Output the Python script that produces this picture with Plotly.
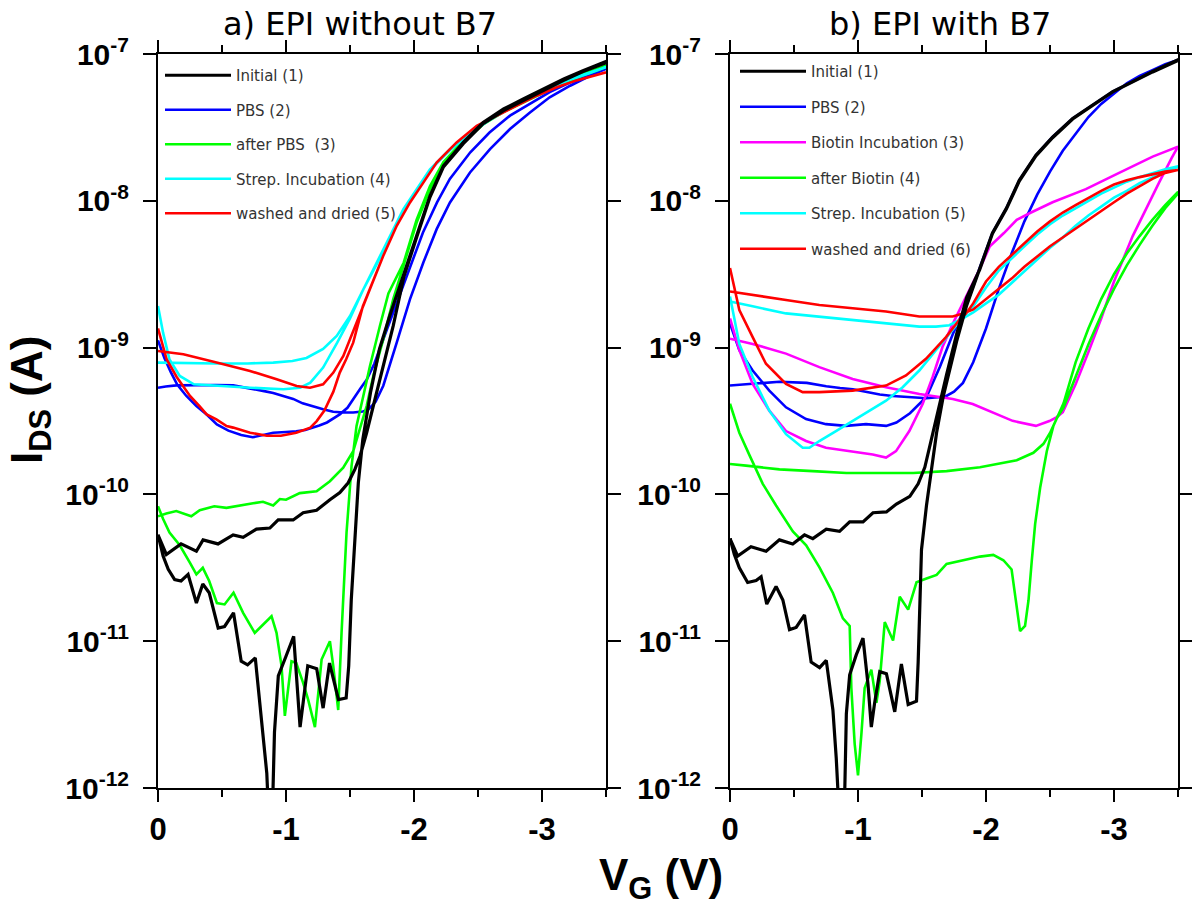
import plotly.graph_objects as go

FONT = "Liberation Sans, Arial, sans-serif"
TITLE_FONT = "DejaVu Sans, Liberation Sans, sans-serif"
LEGEND_FONT = "DejaVu Sans, Liberation Sans, sans-serif"

# Transfer curves I_DS(V_G). Every measurement is a double sweep:
# forward branch 0 -> -3.5 V, reverse branch -3.5 -> 0 V.

# ---------------- a) EPI without B7 ----------------
a_initial_fwd_v = [0, -0.04, -0.08, -0.13, -0.18, -0.235, -0.30, -0.35, -0.40, -0.47, -0.52, -0.59,
                   -0.65, -0.70, -0.76, -0.81, -0.85, -0.87, -0.89, -0.91, -0.94, -1.00, -1.06, -1.11,
                   -1.17, -1.24, -1.29, -1.34, -1.41, -1.47, -1.49, -1.51, -1.54, -1.565, -1.60, -1.66,
                   -1.73, -1.81, -1.92, -2.02, -2.125, -2.23, -2.385, -2.54, -2.70, -2.85, -3.01, -3.17,
                   -3.32, -3.5]
a_initial_fwd_i = [5.33e-11, 3.80e-11, 3.09e-11, 2.63e-11, 2.57e-11, 2.85e-11, 1.82e-11, 2.45e-11,
                   2.14e-11, 1.23e-11, 1.26e-11, 1.56e-11, 7.3e-12, 6.9e-12, 7.7e-12, 2.8e-12, 1.26e-12,
                   5e-13, 5e-13, 2.4e-12, 5.8e-12, 7.9e-12, 1.08e-11, 2.6e-12, 6.8e-12, 6.5e-12, 3.5e-12,
                   7.1e-12, 4.0e-12, 4.1e-12, 6.8e-12, 1.92e-11, 5.5e-11, 1.20e-10, 2.37e-10, 4.93e-10,
                   9.75e-10, 1.64e-9, 3.16e-9, 5.77e-9, 1.08e-8, 1.73e-8, 2.50e-8, 3.42e-8, 4.22e-8,
                   4.93e-8, 5.77e-8, 6.76e-8, 7.69e-8, 8.91e-8]
a_initial_rev_v = [-3.5, -3.32, -3.17, -3.01, -2.85, -2.70, -2.54, -2.385, -2.23, -2.125, -2.02, -1.92,
                   -1.838, -1.76, -1.682, -1.63, -1.578, -1.538, -1.486, -1.421, -1.343, -1.239, -1.134,
                   -1.056, -0.939, -0.874, -0.769, -0.665, -0.587, -0.469, -0.352, -0.30, -0.18, -0.065, 0]
a_initial_rev_i = [8.71e-8, 7.59e-8, 6.61e-8, 5.62e-8, 4.84e-8, 4.12e-8, 3.35e-8, 2.45e-8, 1.70e-8,
                   1.06e-8, 5.62e-9, 3.02e-9, 1.41e-9, 7.5e-10, 4.0e-10, 2.63e-10, 1.82e-10, 1.48e-10,
                   1.20e-10, 1.03e-10, 9.2e-11, 7.8e-11, 7.5e-11, 6.7e-11, 6.7e-11, 5.9e-11, 5.8e-11,
                   5.1e-11, 5.3e-11, 4.6e-11, 4.9e-11, 4.1e-11, 4.6e-11, 3.9e-11, 5.3e-11]

a_pbs_fwd_v = [0, -0.05, -0.10, -0.15, -0.22, -0.30, -0.38, -0.46, -0.55, -0.65, -0.74, -0.82, -0.90,
               -1.0, -1.08, -1.15, -1.21, -1.26, -1.32, -1.38, -1.42, -1.48, -1.525, -1.58, -1.63, -1.69,
               -1.76, -1.865, -1.97, -2.07, -2.18, -2.28, -2.44, -2.59, -2.75, -2.91, -3.06, -3.22,
               -3.375, -3.5]
a_pbs_fwd_i = [1.12e-9, 8.5e-10, 6.8e-10, 5.6e-10, 4.7e-10, 4.0e-10, 3.5e-10, 3.0e-10, 2.72e-10,
               2.54e-10, 2.45e-10, 2.54e-10, 2.63e-10, 2.66e-10, 2.69e-10, 2.75e-10, 2.85e-10, 2.95e-10,
               3.09e-10, 3.31e-10, 3.51e-10, 3.89e-10, 4.47e-10, 5.25e-10, 6.03e-10, 7.76e-10, 1.14e-9,
               2.03e-9, 3.61e-9, 6.08e-9, 9.75e-9, 1.41e-8, 2.14e-8, 2.92e-8, 3.80e-8, 4.57e-8, 5.50e-8,
               6.41e-8, 7.31e-8, 8.13e-8]
a_pbs_rev_v = [-3.5, -3.375, -3.22, -3.06, -2.906, -2.75, -2.594, -2.4375, -2.281, -2.177, -2.073,
               -1.969, -1.865, -1.76, -1.70, -1.64, -1.60, -1.525, -1.45, -1.369, -1.29, -1.213, -1.13,
               -1.056, -0.98, -0.90, -0.82, -0.743, -0.65, -0.587, -0.45, -0.30, -0.143, -0.06, 0]
a_pbs_rev_i = [7.94e-8, 7.11e-8, 6.08e-8, 5.07e-8, 4.0e-8, 3.08e-8, 2.25e-8, 1.56e-8, 9.75e-9, 6.41e-9,
               3.80e-9, 2.14e-9, 1.08e-9, 5.5e-10, 4.27e-10, 3.76e-10, 3.67e-10, 3.61e-10, 3.61e-10,
               3.66e-10, 3.80e-10, 3.98e-10, 4.17e-10, 4.47e-10, 4.68e-10, 4.90e-10, 5.07e-10, 5.2e-10,
               5.37e-10, 5.53e-10, 5.56e-10, 5.56e-10, 5.53e-10, 5.43e-10, 5.33e-10]

a_after_fwd_v = [0, -0.04, -0.09, -0.17, -0.25, -0.30, -0.35, -0.40, -0.46, -0.52, -0.59, -0.665,
                 -0.756, -0.82, -0.887, -0.926, -0.965, -0.991, -1.043, -1.08, -1.134, -1.173, -1.226,
                 -1.278, -1.343, -1.369, -1.408, -1.434, -1.473, -1.512, -1.551, -1.604, -1.656, -1.734,
                 -1.80, -1.92, -2.02, -2.125, -2.23, -2.385, -2.54, -2.70, -2.85, -3.01, -3.17, -3.32, -3.5]
a_after_fwd_i = [8.3e-11, 6.8e-11, 5.5e-11, 4.5e-11, 3.42e-11, 2.85e-11, 3.16e-11, 2.57e-11, 1.82e-11,
                 1.78e-11, 2.14e-11, 1.56e-11, 1.14e-11, 1.30e-11, 1.48e-11, 1.14e-11, 6.8e-12, 3.1e-12,
                 7.3e-12, 7.1e-12, 5.2e-12, 4.0e-12, 2.6e-12, 7.5e-12, 1.0e-11, 6.8e-12, 3.4e-12, 1.14e-11,
                 5.5e-11, 1.56e-10, 2.92e-10, 4.68e-10, 7.5e-10, 1.41e-9, 2.34e-9, 3.80e-9, 7.41e-9,
                 1.26e-8, 1.84e-8, 2.57e-8, 3.39e-8, 4.12e-8, 4.79e-8, 5.56e-8, 6.46e-8, 7.33e-8, 8.32e-8]
a_after_rev_v = [-3.5, -3.32, -3.17, -3.01, -2.85, -2.70, -2.54, -2.385, -2.23, -2.125, -2.02, -1.92,
                 -1.838, -1.76, -1.682, -1.63, -1.578, -1.525, -1.447, -1.343, -1.239, -1.108, -1.0,
                 -0.952, -0.90, -0.82, -0.743, -0.64, -0.535, -0.44, -0.326, -0.26, -0.143, -0.065, 0]
a_after_rev_i = [8.13e-8, 7.16e-8, 6.31e-8, 5.43e-8, 4.68e-8, 4.03e-8, 3.31e-8, 2.51e-8, 1.80e-8,
                 1.20e-8, 7.08e-9, 3.72e-9, 2.14e-9, 1.14e-9, 6.41e-10, 4.0e-10, 2.77e-10, 1.97e-10,
                 1.52e-10, 1.23e-10, 1.05e-10, 1.02e-10, 9.2e-11, 9.3e-11, 8.4e-11, 8.9e-11, 8.7e-11,
                 8.4e-11, 8.1e-11, 8.3e-11, 7.8e-11, 7.1e-11, 7.7e-11, 7.4e-11, 7.1e-11]

a_strep_fwd_v = [0, -0.04, -0.09, -0.17, -0.28, -0.46, -0.72, -0.98, -1.11, -1.19, -1.29, -1.40, -1.50,
                 -1.60, -1.71, -1.81, -1.92, -2.02, -2.125, -2.28, -2.44, -2.59, -2.75, -2.91, -3.06,
                 -3.22, -3.375, -3.5]
a_strep_fwd_i = [1.92e-9, 1.26e-9, 8.3e-10, 6.41e-10, 5.62e-10, 5.48e-10, 5.33e-10, 5.20e-10, 5.33e-10,
                 5.77e-10, 7.31e-10, 1.08e-9, 1.58e-9, 2.45e-9, 3.72e-9, 5.62e-9, 8.61e-9, 1.17e-8,
                 1.62e-8, 2.21e-8, 2.88e-8, 3.55e-8, 4.27e-8, 5.13e-8, 5.86e-8, 6.68e-8, 7.41e-8, 8.04e-8]
a_strep_rev_v = [-3.5, -3.375, -3.22, -3.06, -2.906, -2.75, -2.594, -2.4375, -2.281, -2.125, -2.02,
                 -1.917, -1.8125, -1.708, -1.604, -1.50, -1.396, -1.29, -1.16, -1.05, -0.90, -0.70,
                 -0.46, -0.20, 0]
a_strep_rev_i = [8.13e-8, 7.50e-8, 6.76e-8, 5.93e-8, 5.20e-8, 4.33e-8, 3.61e-8, 2.92e-8, 2.25e-8,
                 1.64e-8, 1.20e-8, 8.77e-9, 5.75e-9, 3.80e-9, 2.51e-9, 1.64e-9, 1.20e-9, 9.8e-10, 8.5e-10,
                 8.1e-10, 7.9e-10, 7.8e-10, 7.8e-10, 7.9e-10, 7.9e-10]

a_washed_fwd_v = [0, -0.068, -0.146, -0.25, -0.326, -0.38, -0.456, -0.536, -0.587, -0.72, -0.85, -0.96,
                  -1.08, -1.19, -1.24, -1.30, -1.37, -1.42, -1.47, -1.525, -1.60, -1.656, -1.76, -1.865,
                  -1.969, -2.073, -2.177, -2.333, -2.49, -2.646, -2.802, -2.958, -3.115, -3.27, -3.5]
a_washed_fwd_i = [1.35e-9, 8.3e-10, 6.31e-10, 4.68e-10, 3.98e-10, 3.51e-10, 3.24e-10, 2.92e-10,
                  2.85e-10, 2.63e-10, 2.51e-10, 2.51e-10, 2.63e-10, 2.85e-10, 3.16e-10, 3.72e-10, 5.01e-10,
                  6.76e-10, 8.32e-10, 1.08e-9, 1.91e-9, 2.51e-9, 4.22e-9, 6.76e-9, 9.75e-9, 1.33e-8,
                  1.82e-8, 2.50e-8, 3.24e-8, 3.80e-8, 4.45e-8, 5.20e-8, 5.93e-8, 6.61e-8, 7.50e-8]
a_washed_rev_v = [-3.5, -3.27, -3.115, -2.958, -2.802, -2.646, -2.49, -2.333, -2.177, -2.073, -1.969,
                  -1.865, -1.76, -1.656, -1.552, -1.448, -1.37, -1.29, -1.1875, -1.083, -0.927, -0.719,
                  -0.458, -0.198, 0]
a_washed_rev_i = [7.50e-8, 6.61e-8, 5.93e-8, 5.20e-8, 4.45e-8, 3.80e-8, 3.24e-8, 2.50e-8, 1.82e-8,
                  1.33e-8, 9.75e-9, 6.76e-9, 4.22e-9, 2.51e-9, 1.48e-9, 8.77e-10, 6.76e-10, 5.62e-10,
                  5.33e-10, 5.48e-10, 6.08e-10, 6.93e-10, 7.91e-10, 9.02e-10, 9.48e-10]

# ---------------- b) EPI with B7 ----------------
b_initial_fwd_v = [0, -0.034, -0.073, -0.138, -0.204, -0.243, -0.287, -0.36, -0.413, -0.465, -0.517,
                   -0.582, -0.634, -0.70, -0.752, -0.804, -0.83, -0.86, -0.89, -0.909, -0.935, -0.987,
                   -1.039, -1.078, -1.104, -1.13, -1.17, -1.222, -1.287, -1.339, -1.392, -1.457, -1.47,
                   -1.496, -1.535, -1.574, -1.614, -1.666, -1.718, -1.77, -1.849, -1.95, -2.05, -2.16,
                   -2.26, -2.39, -2.52, -2.677, -2.833, -2.99, -3.146, -3.302, -3.5]
b_initial_fwd_i = [5.01e-11, 3.89e-11, 3.16e-11, 2.51e-11, 2.59e-11, 2.75e-11, 1.79e-11, 2.36e-11,
                   1.91e-11, 1.20e-11, 1.24e-11, 1.51e-11, 7.2e-12, 6.6e-12, 7.4e-12, 3.4e-12, 1.6e-12,
                   5e-13, 5e-13, 3.2e-12, 5.9e-12, 8.1e-12, 1.05e-11, 5.1e-12, 2.6e-12, 3.8e-12, 6.2e-12,
                   6.0e-12, 3.3e-12, 7.0e-12, 3.7e-12, 3.9e-12, 7.2e-12, 4.2e-11, 8.4e-11, 1.48e-10,
                   2.63e-10, 4.65e-10, 7.35e-10, 1.10e-9, 1.94e-9, 3.47e-9, 6.03e-9, 8.91e-9, 1.38e-8,
                   2.04e-8, 2.72e-8, 3.64e-8, 4.49e-8, 5.55e-8, 6.49e-8, 7.60e-8, 9.12e-8]
b_initial_rev_v = [-3.5, -3.302, -3.146, -2.99, -2.833, -2.677, -2.52, -2.39, -2.26, -2.16, -2.05, -1.95,
                   -1.849, -1.77, -1.692, -1.627, -1.574, -1.522, -1.47, -1.405, -1.30, -1.222, -1.117,
                   -1.039, -0.935, -0.856, -0.752, -0.647, -0.582, -0.49, -0.386, -0.282, -0.164, -0.06, 0]
b_initial_rev_i = [9.02e-8, 7.55e-8, 6.46e-8, 5.52e-8, 4.47e-8, 3.61e-8, 2.69e-8, 2.02e-8, 1.36e-8,
                   8.81e-9, 5.96e-9, 3.39e-9, 2.19e-9, 1.23e-9, 6.55e-10, 3.72e-10, 2.34e-10, 1.53e-10,
                   1.18e-10, 9.7e-11, 8.6e-11, 7.6e-11, 7.5e-11, 6.5e-11, 6.5e-11, 5.6e-11, 5.8e-11,
                   5.0e-11, 5.3e-11, 4.6e-11, 4.9e-11, 4.1e-11, 4.4e-11, 3.8e-11, 5.0e-11]

b_pbs_fwd_v = [0, -0.073, -0.177, -0.307, -0.4375, -0.594, -0.75, -0.906, -1.0625, -1.22, -1.30, -1.406,
               -1.536, -1.64, -1.745, -1.86, -1.95, -2.05, -2.16, -2.26, -2.39, -2.52, -2.677, -2.833,
               -2.99, -3.146, -3.302, -3.5]
b_pbs_fwd_i = [1.46e-9, 9.6e-10, 6.98e-10, 5.09e-10, 3.92e-10, 3.26e-10, 3.01e-10, 2.93e-10, 3.01e-10,
               2.93e-10, 3.09e-10, 3.57e-10, 4.63e-10, 7.41e-10, 1.26e-9, 2.09e-9, 3.47e-9, 6.03e-9,
               8.91e-9, 1.38e-8, 2.04e-8, 2.72e-8, 3.64e-8, 4.49e-8, 5.55e-8, 6.49e-8, 7.60e-8, 9.12e-8]
b_pbs_rev_v = [-3.5, -3.4, -3.3, -3.2, -3.1, -3.0, -2.9, -2.8, -2.7, -2.6, -2.5, -2.4, -2.3, -2.2, -2.1,
               -2.0, -1.9, -1.82, -1.75, -1.68, -1.60, -1.535, -1.45, -1.379, -1.27, -1.17, -1.06, -0.96,
               -0.86, -0.752, -0.60, -0.386, -0.20, -0.125, 0]
b_pbs_rev_i = [9.12e-8, 8.51e-8, 7.76e-8, 7.08e-8, 6.31e-8, 5.37e-8, 4.57e-8, 3.72e-8, 2.88e-8, 2.19e-8,
               1.58e-8, 1.10e-8, 7.24e-9, 4.37e-9, 2.51e-9, 1.35e-9, 7.94e-10, 5.75e-10, 5.01e-10,
               4.63e-10, 4.57e-10, 4.52e-10, 4.57e-10, 4.60e-10, 4.68e-10, 4.79e-10, 5.01e-10, 5.21e-10,
               5.31e-10, 5.46e-10, 5.75e-10, 5.85e-10, 5.69e-10, 5.62e-10, 5.52e-10]

b_biotin_fwd_v = [0, -0.073, -0.177, -0.307, -0.4375, -0.594, -0.75, -0.958, -1.115, -1.219, -1.297,
                  -1.401, -1.505, -1.583, -1.66, -1.74, -1.844, -1.948, -2.03, -2.14, -2.24, -2.344,
                  -2.52, -2.78, -3.04, -3.302, -3.5]
b_biotin_fwd_i = [1.58e-9, 9.6e-10, 5.66e-10, 3.72e-10, 2.70e-10, 2.31e-10, 2.08e-10, 1.97e-10,
                  1.87e-10, 1.78e-10, 1.97e-10, 2.70e-10, 4.13e-10, 6.31e-10, 1.01e-9, 1.45e-9, 2.19e-9,
                  3.39e-9, 4.90e-9, 6.03e-9, 7.41e-9, 8.26e-9, 9.77e-9, 1.20e-8, 1.55e-8, 2.00e-8, 2.34e-8]
b_biotin_rev_v = [-3.5, -3.45, -3.354, -3.25, -3.146, -3.0, -2.9, -2.8, -2.7, -2.6, -2.55, -2.495, -2.39,
                  -2.208, -2.052, -1.896, -1.74, -1.479, -1.219, -0.958, -0.698, -0.4375, -0.177, 0]
b_biotin_rev_i = [2.34e-8, 1.95e-8, 1.34e-8, 8.77e-9, 5.75e-9, 2.82e-9, 1.58e-9, 9.33e-10, 5.62e-10,
                  3.63e-10, 3.35e-10, 3.16e-10, 2.93e-10, 3.17e-10, 3.61e-10, 4.13e-10, 4.47e-10,
                  4.83e-10, 5.37e-10, 6.12e-10, 7.36e-10, 9.1e-10, 1.06e-9, 1.15e-9]

b_after_fwd_v = [0, -0.073, -0.151, -0.256, -0.36, -0.491, -0.595, -0.70, -0.804, -0.882, -0.935,
                 -0.948, -0.974, -1.0, -1.026, -1.052, -1.104, -1.144, -1.17, -1.209, -1.274, -1.326,
                 -1.392, -1.457, -1.535, -1.614, -1.692, -1.822, -1.953, -2.057, -2.136, -2.20, -2.24,
                 -2.266, -2.305, -2.332, -2.358, -2.384, -2.423, -2.475, -2.527, -2.606, -2.7, -2.8, -2.9,
                 -3.0, -3.1, -3.2, -3.3, -3.4, -3.5]
b_after_fwd_i = [4.15e-10, 2.63e-10, 1.86e-10, 1.18e-10, 8.4e-11, 5.6e-11, 4.5e-11, 3.17e-11, 2.13e-11,
                 1.43e-11, 1.27e-11, 4.8e-12, 2.0e-12, 1.22e-12, 2.3e-12, 4.8e-12, 6.4e-12, 3.8e-12,
                 5.4e-12, 1.35e-11, 1.01e-11, 2.01e-11, 1.64e-11, 2.52e-11, 2.67e-11, 2.83e-11, 3.36e-11,
                 3.56e-11, 3.77e-11, 3.87e-11, 3.56e-11, 3.08e-11, 1.79e-11, 1.17e-11, 1.27e-11, 1.90e-11,
                 3.56e-11, 6.3e-11, 1.11e-10, 1.97e-10, 2.94e-10, 4.17e-10, 7.94e-10, 1.35e-9, 2.14e-9,
                 3.16e-9, 4.37e-9, 5.75e-9, 7.41e-9, 9.33e-9, 1.15e-8]
b_after_rev_v = [-3.5, -3.4, -3.3, -3.2, -3.1, -3.0, -2.9, -2.8, -2.7, -2.606, -2.553, -2.501, -2.449,
                 -2.37, -2.24, -2.11, -1.953, -1.692, -1.431, -1.17, -0.909, -0.647, -0.386, -0.125, 0]
b_after_rev_i = [1.12e-8, 8.91e-9, 6.76e-9, 5.01e-9, 3.63e-9, 2.51e-9, 1.66e-9, 1.05e-9, 6.31e-10,
                 3.92e-10, 3.30e-10, 2.63e-10, 2.21e-10, 1.92e-10, 1.71e-10, 1.62e-10, 1.53e-10, 1.44e-10,
                 1.40e-10, 1.40e-10, 1.40e-10, 1.44e-10, 1.48e-10, 1.57e-10, 1.61e-10]

b_strep_fwd_v = [0, -0.073, -0.177, -0.307, -0.4375, -0.568, -0.62, -0.698, -0.828, -0.958, -1.089,
                 -1.219, -1.349, -1.479, -1.609, -1.74, -1.844, -1.9, -2.0, -2.1, -2.2, -2.3, -2.4, -2.5,
                 -2.6, -2.7, -2.8, -2.9, -3.0, -3.1, -3.2, -3.3, -3.4, -3.5]
b_strep_fwd_i = [2.23e-9, 1.06e-9, 6.30e-10, 3.72e-10, 2.57e-10, 2.08e-10, 2.08e-10, 2.31e-10, 2.70e-10,
                 3.17e-10, 3.72e-10, 4.35e-10, 5.37e-10, 6.98e-10, 9.6e-10, 1.32e-9, 1.71e-9, 1.91e-9,
                 2.57e-9, 3.35e-9, 4.07e-9, 4.90e-9, 5.89e-9, 6.92e-9, 7.94e-9, 8.91e-9, 1.0e-8, 1.12e-8,
                 1.23e-8, 1.35e-8, 1.45e-8, 1.55e-8, 1.64e-8, 1.72e-8]
b_strep_rev_v = [-3.5, -3.4, -3.3, -3.2, -3.1, -3.0, -2.9, -2.8, -2.7, -2.6, -2.5, -2.4, -2.3, -2.2, -2.1,
                 -2.0, -1.95, -1.9, -1.82, -1.79, -1.714, -1.609, -1.479, -1.219, -0.958, -0.698, -0.4375,
                 -0.177, 0]
b_strep_rev_i = [1.70e-8, 1.58e-8, 1.45e-8, 1.32e-8, 1.17e-8, 1.05e-8, 9.12e-9, 7.94e-9, 6.76e-9,
                 5.62e-9, 4.79e-9, 3.98e-9, 3.31e-9, 2.75e-9, 2.29e-9, 2.0e-9, 1.86e-9, 1.74e-9, 1.58e-9,
                 1.54e-9, 1.42e-9, 1.39e-9, 1.39e-9, 1.46e-9, 1.54e-9, 1.62e-9, 1.71e-9, 1.91e-9, 2.06e-9]

b_washed_fwd_v = [0, -0.073, -0.177, -0.281, -0.4375, -0.568, -0.698, -0.958, -1.219, -1.375, -1.531,
                  -1.6875, -1.79, -1.844, -1.9, -2.0, -2.1, -2.2, -2.3, -2.4, -2.5, -2.6, -2.7, -2.8, -2.9,
                  -3.0, -3.1, -3.2, -3.3, -3.4, -3.5]
b_washed_fwd_i = [3.48e-9, 1.80e-9, 1.18e-9, 7.76e-10, 5.66e-10, 4.97e-10, 4.97e-10, 5.09e-10,
                  5.51e-10, 6.46e-10, 8.39e-10, 1.18e-9, 1.54e-9, 1.71e-9, 2.0e-9, 2.82e-9, 3.55e-9,
                  4.27e-9, 5.13e-9, 6.17e-9, 7.24e-9, 8.32e-9, 9.33e-9, 1.05e-8, 1.17e-8, 1.29e-8,
                  1.38e-8, 1.45e-8, 1.51e-8, 1.58e-8, 1.62e-8]
b_washed_rev_v = [-3.5, -3.4, -3.3, -3.2, -3.1, -3.0, -2.9, -2.8, -2.7, -2.6, -2.5, -2.4, -2.3, -2.2,
                  -2.1, -2.0, -1.9, -1.82, -1.74, -1.6, -1.479, -1.219, -0.958, -0.698, -0.4375, -0.177, 0]
b_washed_rev_i = [1.62e-8, 1.55e-8, 1.41e-8, 1.26e-8, 1.12e-8, 9.77e-9, 8.51e-9, 7.41e-9, 6.46e-9,
                  5.62e-9, 4.90e-9, 4.17e-9, 3.55e-9, 2.95e-9, 2.51e-9, 2.14e-9, 1.82e-9, 1.71e-9,
                  1.63e-9, 1.63e-9, 1.63e-9, 1.76e-9, 1.85e-9, 1.95e-9, 2.11e-9, 2.29e-9, 2.41e-9]

# axis ticks
x_tick_vals = [0, -1, -2, -3]
x_tick_text = ["0", "-1", "-2", "-3"]
x_minor_vals = [-0.5, -1.5, -2.5, -3.5]
y_tick_vals = [1e-12, 1e-11, 1e-10, 1e-9, 1e-8, 1e-7]
y_tick_text = ["-12", "-11", "-10", "-9", "-8", "-7"]

# (label, colour, width, fwd_v, fwd_i, rev_v, rev_i, legend rank); listed in drawing order
panel_a = [
    ("PBS (2)", "#0000ff", 2.6, a_pbs_fwd_v, a_pbs_fwd_i, a_pbs_rev_v, a_pbs_rev_i, 2),
    ("after PBS  (3)", "#00ff00", 2.6, a_after_fwd_v, a_after_fwd_i, a_after_rev_v, a_after_rev_i, 3),
    ("Strep. Incubation (4)", "#00ffff", 2.6, a_strep_fwd_v, a_strep_fwd_i, a_strep_rev_v, a_strep_rev_i, 4),
    ("washed and dried (5)", "#ff0000", 2.6, a_washed_fwd_v, a_washed_fwd_i, a_washed_rev_v, a_washed_rev_i, 5),
    ("Initial (1)", "#000000", 3.2, a_initial_fwd_v, a_initial_fwd_i, a_initial_rev_v, a_initial_rev_i, 1),
]
panel_b = [
    ("PBS (2)", "#0000ff", 2.6, b_pbs_fwd_v, b_pbs_fwd_i, b_pbs_rev_v, b_pbs_rev_i, 2),
    ("Biotin Incubation (3)", "#ff00ff", 2.6, b_biotin_fwd_v, b_biotin_fwd_i, b_biotin_rev_v, b_biotin_rev_i, 3),
    ("after Biotin (4)", "#00ff00", 2.6, b_after_fwd_v, b_after_fwd_i, b_after_rev_v, b_after_rev_i, 4),
    ("Strep. Incubation (5)", "#00ffff", 2.6, b_strep_fwd_v, b_strep_fwd_i, b_strep_rev_v, b_strep_rev_i, 5),
    ("washed and dried (6)", "#ff0000", 2.6, b_washed_fwd_v, b_washed_fwd_i, b_washed_rev_v, b_washed_rev_i, 6),
    ("Initial (1)", "#000000", 3.2, b_initial_fwd_v, b_initial_fwd_i, b_initial_rev_v, b_initial_rev_i, 1),
]

fig = go.Figure()


def add_panel(curves, xref, yref, legend, tag):
    for label, color, width, fv, fi, rv, ri, rank in curves:
        if len(fv) != len(fi) or len(rv) != len(ri):
            raise ValueError(f"length mismatch in {tag} {label}")
        fig.add_trace(go.Scatter(
            x=fv + rv, y=fi + ri, mode="lines", name=label,
            line=dict(color=color, width=width),
            xaxis=xref, yaxis=yref, legend=legend,
            legendgroup=f"{tag}-{label}", legendrank=rank,
        ))


add_panel(panel_a, "x", "y", "legend", "a")
add_panel(panel_b, "x2", "y2", "legend2", "b")

W, H = 1192, 909
X_DOM_A = [158 / W, 606 / W]
X_DOM_B = [730 / W, 1178 / W]
Y_DOM = [121 / H, 855 / H]


def x_axis(domain, anchor, inside=False, overlaying=None):
    ax = dict(
        domain=domain, anchor=anchor, range=[0, -3.5], showgrid=False, zeroline=False,
        automargin=False, showline=True, linecolor="black", linewidth=2, mirror="ticks",
        tickmode="array", tickvals=x_tick_vals, ticks="inside" if inside else "outside",
        ticklen=12, tickwidth=2, tickcolor="black",
        minor=dict(tickmode="array", tickvals=x_minor_vals, ticks="inside" if inside else "outside",
                   ticklen=7, tickwidth=2, tickcolor="black"),
    )
    if inside:
        ax.update(showticklabels=False, overlaying=overlaying)
    else:
        ax.update(ticktext=[f"<b>{t}</b>" for t in x_tick_text], ticklabelstandoff=1,
                  tickfont=dict(family=FONT, size=31, color="black"))
    return ax


def y_axis(anchor, inside=False, overlaying=None):
    ax = dict(
        domain=Y_DOM, anchor=anchor, type="log", range=[-12, -7], showgrid=False, zeroline=False,
        automargin=False, showline=True, linecolor="black", linewidth=2, mirror="ticks",
        tickmode="array", tickvals=y_tick_vals, ticks="inside" if inside else "outside",
        ticklen=13, tickwidth=2, tickcolor="black",
    )
    if inside:
        ax.update(showticklabels=False, overlaying=overlaying)
    else:
        ax.update(ticktext=[f"<b>10<sup>{t}</sup></b>" for t in y_tick_text], ticklabelstandoff=8,
                  tickfont=dict(family=FONT, size=30, color="black"))
    return ax


legend_common = dict(
    bgcolor="rgba(0,0,0,0)", borderwidth=0, xanchor="left", yanchor="top",
    traceorder="grouped", itemwidth=66, itemclick=False, itemdoubleclick=False,
    font=dict(family=LEGEND_FONT, size=15, color="#333333"),
)

fig.update_layout(
    width=W, height=H, margin=dict(l=0, r=0, t=0, b=0, autoexpand=False),
    paper_bgcolor="white", plot_bgcolor="white",
    xaxis=x_axis(X_DOM_A, "y"), yaxis=y_axis("x"),
    xaxis2=x_axis(X_DOM_B, "y2"), yaxis2=y_axis("x2"),
    xaxis3=x_axis(X_DOM_A, "y3", inside=True, overlaying="x"),
    yaxis3=y_axis("x3", inside=True, overlaying="y"),
    xaxis4=x_axis(X_DOM_B, "y4", inside=True, overlaying="x2"),
    yaxis4=y_axis("x4", inside=True, overlaying="y2"),
    legend=dict(legend_common, x=160 / W, y=1 - 59 / H, tracegroupgap=12),
    legend2=dict(legend_common, x=735 / W, y=1 - 55 / H, tracegroupgap=13),
    annotations=[
        dict(text="a) EPI without B7", x=360 / W, y=1 - 24 / H, xref="paper", yref="paper",
             showarrow=False, xanchor="center", yanchor="middle",
             font=dict(family=TITLE_FONT, size=32, color="black")),
        dict(text="b) EPI with B7", x=940 / W, y=1 - 24 / H, xref="paper", yref="paper",
             showarrow=False, xanchor="center", yanchor="middle",
             font=dict(family=TITLE_FONT, size=32, color="black")),
        dict(text="<b>I<sub>DS</sub> (A)</b>", x=30 / W, y=1 - 400 / H, xref="paper", yref="paper",
             showarrow=False, xanchor="center", yanchor="middle", textangle=-90,
             font=dict(family=FONT, size=44, color="black")),
        dict(text="<b>V<sub>G</sub> (V)</b>", x=661 / W, y=1 - 878 / H, xref="paper", yref="paper",
             showarrow=False, xanchor="center", yanchor="middle",
             font=dict(family=FONT, size=44, color="black")),
    ],
)

fig.write_html("out.html")
